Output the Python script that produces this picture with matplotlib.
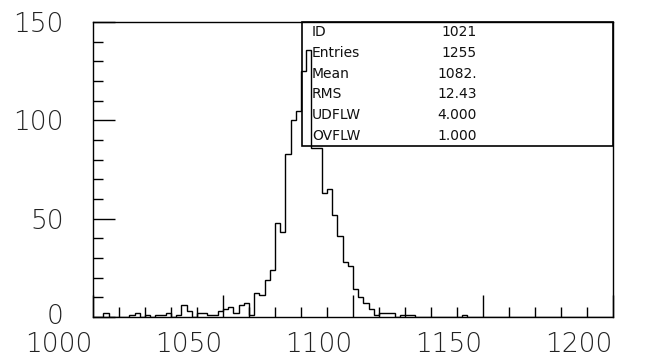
import numpy as np
import matplotlib
matplotlib.use('Agg')
import matplotlib.pyplot as plt
from matplotlib.ticker import MultipleLocator
from matplotlib.transforms import ScaledTranslation

# Histogram ID 1021: 100 bins of width 2 between 1000 and 1200
bin_edges = np.arange(1000, 1202, 2)
counts = [
    0, 0, 2, 0, 0, 0, 0, 1, 2, 0,        # 1000-1020
    1, 0, 1, 1, 2, 0, 1, 6, 3, 0,        # 1020-1040
    2, 2, 1, 1, 3, 4, 5, 2, 6, 7,        # 1040-1060
    1, 12, 11, 19, 24, 48, 43, 83, 100, 105,   # 1060-1080
    125, 136, 86, 86, 63, 65, 52, 41, 28, 26,  # 1080-1100
    14, 10, 7, 4, 1, 2, 2, 2, 0, 1,      # 1100-1120
    1, 1, 0, 0, 0, 0, 0, 0, 0, 0,        # 1120-1140
    0, 1, 0, 0, 0, 0, 0, 0, 0, 0,        # 1140-1160
    0, 0, 0, 0, 0, 0, 0, 0, 0, 0,        # 1160-1180
    0, 0, 0, 0, 0, 0, 0, 0, 0, 0,        # 1180-1200
]

stat_names = ['ID', 'Entries', 'Mean', 'RMS', 'UDFLW', 'OVFLW']
stat_values = ['1021', '1255', '1082.', '12.43', '4.000', '1.000']

x_ticks = [1000, 1050, 1100, 1150, 1200]
y_ticks = [0, 50, 100, 150]

fig = plt.figure(figsize=(6.57, 3.60), dpi=100)
ax = fig.add_axes([93 / 657, 1 - 317 / 360, 520 / 657, 295 / 360])

ax.stairs(counts, bin_edges, color='black', lw=1.0)

ax.set_xlim(1000, 1200)
ax.set_ylim(0, 150)
ax.set_xticks(x_ticks)
ax.set_yticks(y_ticks)
ax.xaxis.set_minor_locator(MultipleLocator(10))
ax.yaxis.set_minor_locator(MultipleLocator(10))
ax.tick_params(which='both', direction='in', top=False, right=False,
               width=1.0, color='black')
ax.tick_params(which='major', length=15.5)
ax.tick_params(which='minor', length=7.5)
ax.tick_params(axis='x', which='major', pad=11)
ax.tick_params(axis='y', which='major', pad=21)
ax.set_xticklabels([str(v) for v in x_ticks], fontsize=19,
                   fontweight='light', color='#222222')
ax.set_yticklabels([str(v) for v in y_ticks], fontsize=19,
                   fontweight='light', color='#222222')

# PAW puts the x labels left of their tick
shift = ScaledTranslation(-34 / 100, 0, fig.dpi_scale_trans)
for lab in ax.get_xticklabels():
    lab.set_transform(lab.get_transform() + shift)
# and the lowest y label sits slightly above the axis
ax.get_yticklabels()[0].set_transform(
    ax.get_yticklabels()[0].get_transform()
    + ScaledTranslation(0, 3 / 100, fig.dpi_scale_trans))

for sp in ax.spines.values():
    sp.set_linewidth(1.0)
    sp.set_color('black')

# statistics box in the upper right corner
box_l, box_r = 302 / 657, 613 / 657
box_t, box_b = 1 - 22 / 360, 1 - 146 / 360
fig.patches.append(plt.Rectangle((box_l, box_b), box_r - box_l, box_t - box_b,
                                 transform=fig.transFigure, fill=False,
                                 edgecolor='black', lw=1.2))
row_h = (box_t - box_b) / len(stat_names)
for i, (name, val) in enumerate(zip(stat_names, stat_values)):
    yc = box_t - row_h * (i + 0.5)
    fig.text(312 / 657, yc, name, fontsize=10, va='center', ha='left',
             color='#111111')
    fig.text(477 / 657, yc, val, fontsize=10, va='center', ha='right',
             color='#111111')

fig.savefig('out.png', dpi=100)
